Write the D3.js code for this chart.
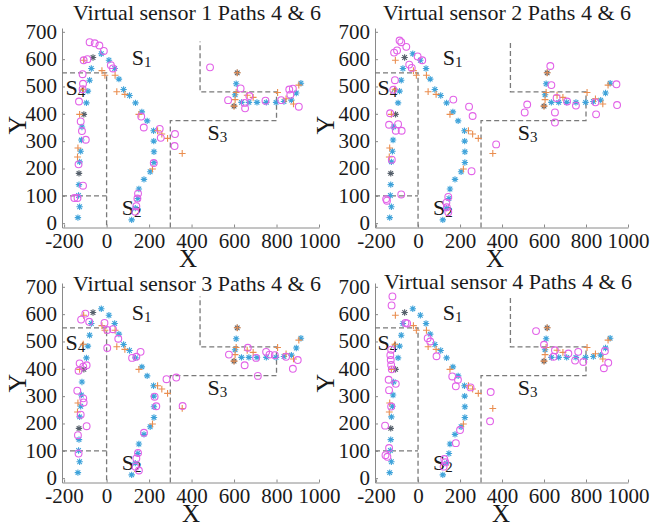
<!DOCTYPE html>
<html><head><meta charset="utf-8">
<script src="https://cdn.jsdelivr.net/npm/d3@7"></script>
<style>
body{margin:0;background:#fff}
svg{display:block}
text{font-family:"Liberation Serif","Times New Roman",serif;fill:#1a1a1a}
</style></head>
<body><svg id="c" width="650" height="527"></svg>
<script>
// ---------- data ----------
const xTicks = [-200, 0, 200, 400, 600, 800, 1000];
const yTicks = [0, 100, 200, 300, 400, 500, 600, 700];
const titles = ["Virtual sensor 1 Paths 4 & 6", "Virtual sensor 2 Paths 4 & 6",
                "Virtual sensor 3 Paths 4 & 6", "Virtual sensor 4 Paths 4 & 6"];

// path points (asterisks, shared by all panels)
const starX = [-135,-127,-132,-130,-127,-122,-119,-116,-95,-88,-80,-72,-25,11,38,58,80,108,136,166,191,221,222,223,223,205,176,152,147,135,118,610,605,635,670,708,752,798,835,870,893,915];
const starY = [20,60,101,141,224,263,304,352,440,483,523,566,620,596,566,527,489,467,440,407,374,338,300,261,222,188,160,125,90,55,12,510,470,442,442,442,442,442,445,450,476,512];
const darkStarX = [-130,-107,-64,615,600];
const darkStarY = [182,398,606,550,428];
// second path (plus signs, shared)
const plusX = [-108,-22,-8,40,48,86,152,240,260,287,356,216,-110,-127,-135,-137,615,610,605,662,690,805,845,905,880,600];
const plusY = [596,558,541,541,481,471,398,338,326,310,255,198,490,398,275,242,550,478,452,468,460,478,455,505,436,428];
// virtual sensor estimates (circles)
const c1X = [-80,-56,-34,-13,-108,-90,20,30,-113,-111,-113,-130,-122,-116,-98,-132,-111,-152,-137,163,175,250,255,322,320,222,148,145,140,135,487,631,572,652,672,650,748,822,860,877,865,905];
const c1Y = [662,658,650,630,596,600,578,566,545,510,490,445,372,337,305,215,137,92,92,390,350,345,312,326,282,220,108,90,62,42,570,493,450,420,465,440,448,450,489,492,470,426];
const c2X = [-88,-80,-56,-100,-114,-2,20,-42,-30,-110,-118,-133,-138,-95,-106,-78,-125,-152,-148,-80,168,243,260,255,144,135,137,144,372,630,635,660,652,652,520,508,710,752,845,848,945,948];
const c2Y = [668,662,645,632,624,610,596,580,568,523,488,402,360,362,338,338,232,88,82,105,452,426,392,190,96,75,58,40,288,575,505,458,405,368,434,405,445,430,442,398,508,432];
const c3X = [-120,-100,-82,-10,3,30,3,55,120,140,160,-127,-110,-94,-132,-138,-110,-108,-122,-94,-135,-132,226,234,176,148,140,136,152,282,328,358,576,665,650,704,751,767,792,845,900,877,712];
const c3Y = [580,602,572,568,542,545,476,510,440,444,462,420,408,413,393,320,292,277,232,190,157,90,298,263,166,92,72,42,28,362,368,264,452,477,413,440,462,452,450,444,432,400,374];
const c4X = [-122,-126,-60,-52,46,58,88,-128,-132,-130,-128,-125,-140,-106,-138,-128,-157,-138,-155,-146,163,180,190,250,346,343,200,180,125,130,122,562,600,652,716,763,748,787,890,906,885,645];
const c4Y = [665,632,568,566,512,500,446,470,450,432,414,398,360,345,322,262,192,110,84,78,372,336,360,332,315,208,176,128,70,58,42,538,488,468,456,462,430,425,465,422,402,444];

// region boundaries (data coords) and region names
const boundaryA = [[-210,550],[0,550],[0,-16]];
const boundaryB = [[-210,100],[0,100]];
const boundaryC = [[300,-16],[300,375],[800,375],[800,480],[440,480],[440,665]];
const regionNames = ["1","2","3","4"];
const regionX = [118, 71, 475, -193];
const regionY = [578, 29, 304, 468];

// ---------- layout ----------
const panels = [
  {cx:c1X, cy:c1Y, xd:[-210,1000], xr:[62,319], oy:0,   tx:197, ty:20,  xl:[188,267], yl:[26,125]},
  {cx:c2X, cy:c2Y, xd:[-205,1000], xr:[375,628], oy:0,  tx:507, ty:20,  xl:[495,267], yl:[334,125]},
  {cx:c3X, cy:c3Y, xd:[-210,1000], xr:[62,319], oy:255, tx:197, ty:291, xl:[191,522], yl:[26,383]},
  {cx:c4X, cy:c4Y, xd:[-205,1000], xr:[375,628], oy:255,tx:508, ty:289, xl:[501,522], yl:[334,383]}
];

const svg = d3.select("#c");
const starPath = (s)=>{const d=s*0.72;return `M${-s},0H${s}M0,${-s}V${s}M${-d},${-d}L${d},${d}M${-d},${d}L${d},${-d}`;};
const plusPath = (s)=>`M${-s},0H${s}M0,${-s}V${s}`;

panels.forEach((p,i)=>{
  const x = d3.scaleLinear().domain(p.xd).range(p.xr);
  const y = d3.scaleLinear().domain([-16,714]).range([227.5+p.oy, 28+p.oy]);
  const g = svg.append("g");

  // axes
  const ax = g.append("g").attr("transform",`translate(0,${y(-16)})`)
    .call(d3.axisBottom(x).tickValues(xTicks).tickSize(-3).tickSizeOuter(0).tickPadding(6).tickFormat(d3.format("d")));
  const ay = g.append("g").attr("transform",`translate(${p.xr[0]},0)`)
    .call(d3.axisLeft(y).tickValues(yTicks).tickSize(-3).tickSizeOuter(0).tickPadding(5).tickFormat(d3.format("d")));
  [ax,ay].forEach(a=>{
    a.select(".domain").attr("stroke","#8a8a8a").attr("stroke-width",1);
    a.selectAll(".tick line").attr("stroke","#8a8a8a");
    a.selectAll("text").attr("font-size",21).attr("font-family","Liberation Serif, serif").attr("fill","#1a1a1a");
  });
  ax.selectAll("text").text(d=>d<0?"-"+Math.abs(d):d);
  ay.selectAll("text").attr("dy","0.30em");

  // dashed region boundaries
  const line = d3.line().x(d=>x(Math.max(d[0],p.xd[0]))).y(d=>y(d[1]));
  [boundaryA,boundaryB,boundaryC].forEach(b=>{
    g.append("path").attr("d",line(b)).attr("fill","none")
     .attr("stroke","#7a7a7a").attr("stroke-width",1.3).attr("stroke-dasharray","5,3");
  });

  // region labels
  regionNames.forEach((n,k)=>{
    const t = g.append("text").attr("x",x(regionX[k])).attr("y",y(regionY[k])).attr("font-size",22);
    t.append("tspan").text("S");
    t.append("tspan").attr("font-size",15).attr("dy",2).text(n);
  });

  // markers: asterisks
  g.append("g").selectAll("path").data(d3.range(starX.length)).join("path")
    .attr("transform",k=>`translate(${x(starX[k])},${y(starY[k])})`)
    .attr("d",starPath(3.2)).attr("fill","none").attr("stroke","#3fa3da").attr("stroke-width",1.1);
  g.append("g").selectAll("path").data(d3.range(darkStarX.length)).join("path")
    .attr("transform",k=>`translate(${x(darkStarX[k])},${y(darkStarY[k])})`)
    .attr("d",starPath(3.2)).attr("fill","none").attr("stroke","#56606b").attr("stroke-width",1.1);
  // plus
  g.append("g").selectAll("path").data(d3.range(plusX.length)).join("path")
    .attr("transform",k=>`translate(${x(plusX[k])},${y(plusY[k])})`)
    .attr("d",plusPath(3.4)).attr("fill","none").attr("stroke","#ea8e50").attr("stroke-width",1.1);
  // circles
  g.append("g").selectAll("circle").data(d3.range(p.cx.length)).join("circle")
    .attr("cx",k=>x(p.cx[k])).attr("cy",k=>y(p.cy[k])).attr("r",3.4)
    .attr("fill","none").attr("stroke","#e262e8").attr("stroke-width",1.1);

  // titles and axis labels
  g.append("text").attr("x",p.tx).attr("y",p.ty).attr("text-anchor","middle").attr("font-size",22).text(titles[i]);
  g.append("text").attr("x",p.xl[0]).attr("y",p.xl[1]).attr("text-anchor","middle").attr("font-size",25).text("X");
  g.append("text").attr("transform",`translate(${p.yl[0]},${p.yl[1]}) rotate(-90)`)
    .attr("text-anchor","middle").attr("font-size",26).text("Y");
});
</script>
</body></html>
